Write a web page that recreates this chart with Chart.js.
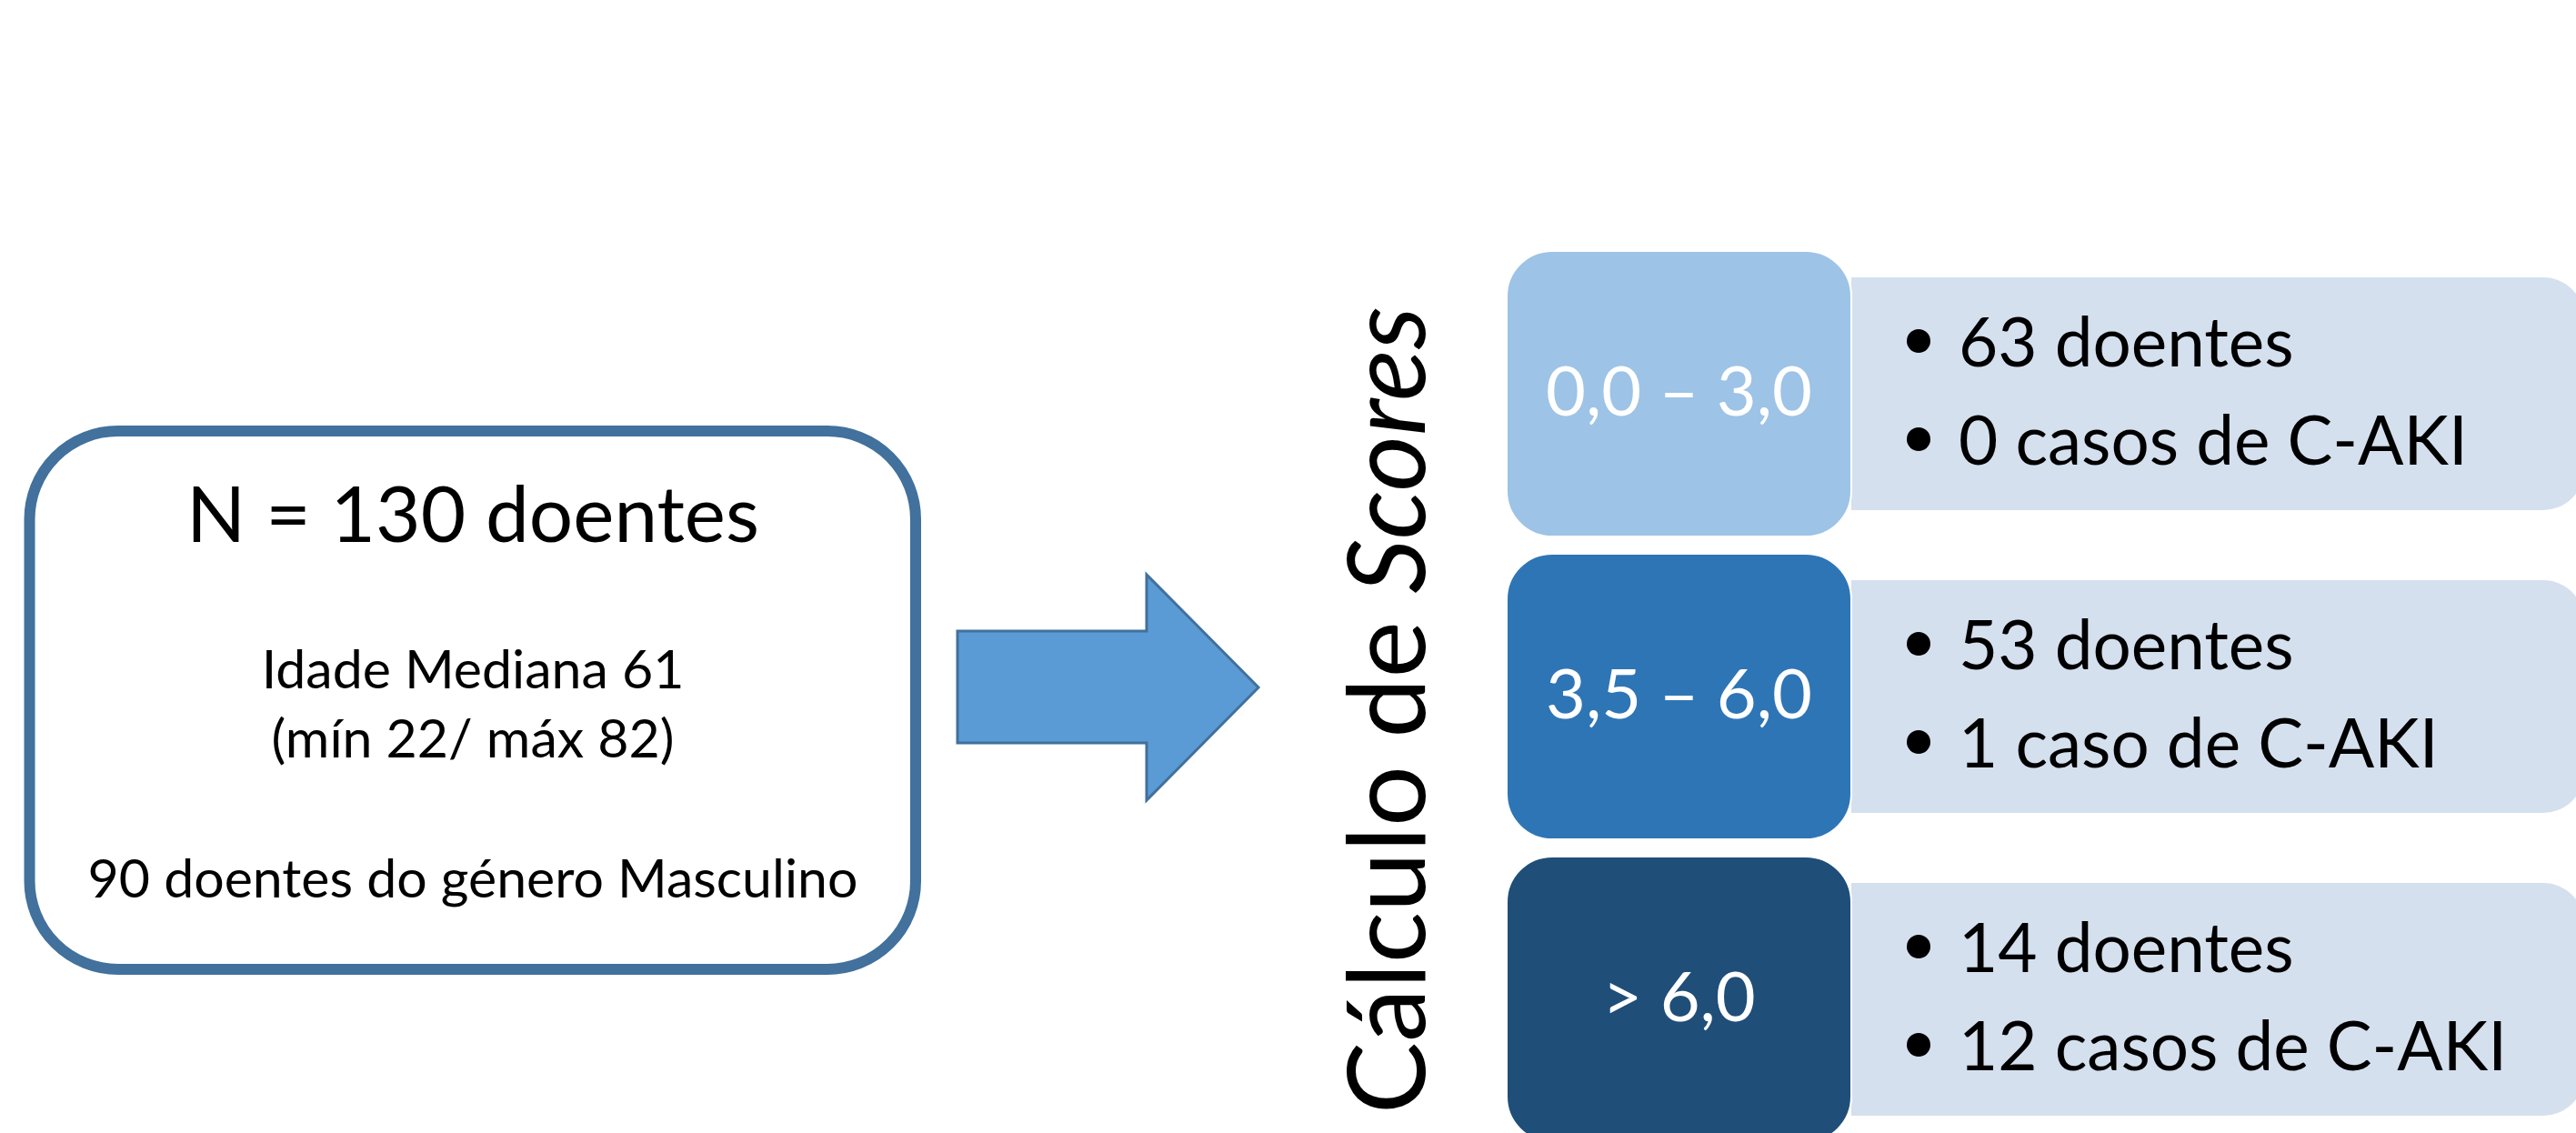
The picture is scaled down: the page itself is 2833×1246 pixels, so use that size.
<!DOCTYPE html>
<html>
<head>
<meta charset="utf-8">
<script src="https://cdn.jsdelivr.net/npm/chart.js@4/dist/chart.umd.min.js"></script>
<style>
  html, body { margin: 0; padding: 0; background: #ffffff; overflow: hidden; }
  canvas { display: block; }
</style>
</head>
<body>
<canvas id="flow" width="2833" height="1246"></canvas>
<script>
// Cohort summary
const totalPatients = 130;
const medianAge = 61;
const minAge = 22;
const maxAge = 82;
const malePatients = 90;

// Score bands and what was observed in each
const scoreRanges = ['0,0 – 3,0', '3,5 – 6,0', '> 6,0'];
const patientsPerRange = [63, 53, 14];
const akiCasesPerRange = [0, 1, 12];

// Step title (second word in italics)
const stepTitle = ['Cálculo de ', 'Scores'];

const bandColors = ['#9DC3E6', '#2E75B6', '#1F4E79'];
const FAMILY = 'Lato, "Open Sans", "DejaVu Sans", sans-serif';

function setFont(ctx, size, style) {
  ctx.font = (style || 'normal') + ' ' + size + 'px ' + FAMILY;
}

// font size that makes `text` exactly `width` pixels wide
function sizeForWidth(ctx, text, width, style) {
  setFont(ctx, 100, style);
  return 100 * width / ctx.measureText(text).width;
}

function capHeight(ctx) {
  return ctx.measureText('H').actualBoundingBoxAscent;
}

// draw text so that the middle of its capitals sits on capMid
function textAt(ctx, text, x, capMid, align) {
  ctx.textAlign = align;
  ctx.textBaseline = 'alphabetic';
  ctx.fillText(text, x, capMid + capHeight(ctx) / 2);
}

// rounded rectangle; rl = radius of the left corners, rr = right corners
function roundedRect(ctx, x, y, w, h, rl, rr) {
  if (rr === undefined) rr = rl;
  ctx.beginPath();
  ctx.moveTo(x + rl, y);
  ctx.lineTo(x + w - rr, y);
  if (rr > 0) ctx.arcTo(x + w, y, x + w, y + rr, rr); else ctx.lineTo(x + w, y);
  ctx.lineTo(x + w, y + h - rr);
  if (rr > 0) ctx.arcTo(x + w, y + h, x + w - rr, y + h, rr); else ctx.lineTo(x + w, y + h);
  ctx.lineTo(x + rl, y + h);
  if (rl > 0) ctx.arcTo(x, y + h, x, y + h - rl, rl); else ctx.lineTo(x, y + h);
  ctx.lineTo(x, y + rl);
  if (rl > 0) ctx.arcTo(x, y, x + rl, y, rl); else ctx.lineTo(x, y);
  ctx.closePath();
}

const flowPlugin = {
  id: 'flowDiagram',
  afterDraw(chart) {
    const ctx = chart.ctx;
    const yScale = chart.scales.y;
    ctx.save();

    // ---- cohort box ----
    roundedRect(ctx, 32.5, 474, 974.5, 592, 97);
    ctx.fillStyle = '#ffffff';
    ctx.fill();
    ctx.lineWidth = 12;
    ctx.strokeStyle = '#41719C';
    ctx.stroke();

    ctx.fillStyle = '#000000';
    const headline = 'N = ' + totalPatients + ' doentes';
    setFont(ctx, sizeForWidth(ctx, headline, 630));
    textAt(ctx, headline, 520, 565, 'center');

    const lines = [
      'Idade Mediana ' + medianAge,
      '(mín ' + minAge + '/ máx ' + maxAge + ')',
      malePatients + ' doentes do género Masculino'
    ];
    const smallSize = sizeForWidth(ctx, lines[2], 847);
    setFont(ctx, smallSize);
    textAt(ctx, lines[0], 520, 736, 'center');
    textAt(ctx, lines[1], 520, 812, 'center');
    textAt(ctx, lines[2], 520, 966, 'center');

    // ---- arrow ----
    ctx.beginPath();
    ctx.moveTo(1053, 694);
    ctx.lineTo(1261, 694);
    ctx.lineTo(1261, 632);
    ctx.lineTo(1384, 756);
    ctx.lineTo(1261, 880);
    ctx.lineTo(1261, 817);
    ctx.lineTo(1053, 817);
    ctx.closePath();
    ctx.fillStyle = '#5B9BD5';
    ctx.fill();
    ctx.lineWidth = 3;
    ctx.lineJoin = 'miter';
    ctx.strokeStyle = '#41719C';
    ctx.stroke();

    // ---- vertical step title ----
    setFont(ctx, 100);
    const w0 = ctx.measureText(stepTitle[0]).width;
    setFont(ctx, 100, 'italic');
    const w1 = ctx.measureText(stepTitle[1]).width;
    const titleSize = 100 * 888 / (w0 + w1);
    ctx.save();
    ctx.translate(1567, 1225);
    ctx.rotate(-Math.PI / 2);
    ctx.fillStyle = '#000000';
    ctx.textAlign = 'left';
    ctx.textBaseline = 'alphabetic';
    setFont(ctx, titleSize);
    ctx.fillText(stepTitle[0], 0, 0);
    const off = ctx.measureText(stepTitle[0]).width;
    setFont(ctx, titleSize, 'italic');
    ctx.fillText(stepTitle[1], off, 0);
    ctx.restore();

    // ---- score bands ----
    const labelSize = sizeForWidth(ctx, scoreRanges[0], 293);
    const detailSize = sizeForWidth(ctx, '0 casos de C-AKI', 560);
    scoreRanges.forEach((range, i) => {
      const cy = yScale.getPixelForValue(i);

      // detail panel behind the band box (square on the left)
      roundedRect(ctx, 2036, cy - 128, 806, 256, 0, 45);
      ctx.fillStyle = '#D5E0EF';
      ctx.fill();

      // band box
      roundedRect(ctx, 1657, cy - 157, 379, 314, 50);
      ctx.fillStyle = bandColors[i];
      ctx.fill();
      ctx.lineWidth = 2;
      ctx.strokeStyle = '#ffffff';
      ctx.stroke();

      ctx.fillStyle = '#ffffff';
      setFont(ctx, labelSize);
      textAt(ctx, range, 1846.5, cy - 3, 'center');

      // bullets
      const n = akiCasesPerRange[i];
      const items = [
        patientsPerRange[i] + ' doentes',
        n + (n === 1 ? ' caso' : ' casos') + ' de C-AKI'
      ];
      const mids = [cy - 57, cy + 51];
      ctx.fillStyle = '#000000';
      setFont(ctx, detailSize);
      items.forEach((t, k) => {
        ctx.beginPath();
        ctx.arc(2110, mids[k] - 1, 13, 0, Math.PI * 2);
        ctx.fill();
        textAt(ctx, t, 2154, mids[k], 'left');
      });
    });

    ctx.restore();
  }
};

new Chart(document.getElementById('flow'), {
  type: 'bar',
  data: { labels: scoreRanges, datasets: [] },
  options: {
    responsive: false,
    devicePixelRatio: 1,
    animation: false,
    events: [],
    layout: { padding: { top: 433, bottom: 147, left: 0, right: 0 } },
    scales: {
      x: { type: 'linear', display: false },
      y: { type: 'category', labels: scoreRanges, offset: false, display: false }
    },
    plugins: { legend: { display: false }, tooltip: { enabled: false } }
  },
  plugins: [flowPlugin]
});
</script>
</body>
</html>
